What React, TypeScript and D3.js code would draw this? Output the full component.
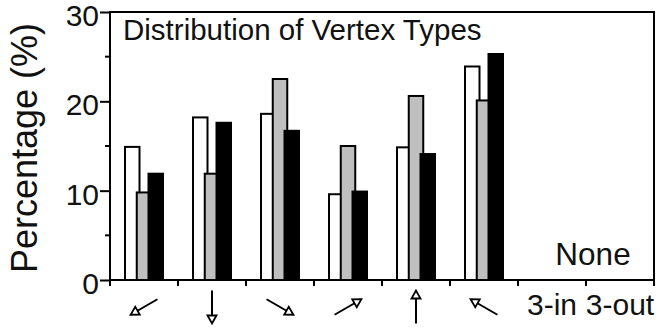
import React, { useRef, useEffect } from 'react'
import * as d3 from 'd3'

// vertex types: six arrow directions, then the two 3-way types
const vertexTypes = ['↙', '↓', '↘', '↗', '↑', '↖', '3-in', '3-out']
const seriesWhite = [14.9, 18.2, 18.6, 9.6, 14.85, 23.9, 0, 0]
const seriesGray = [9.8, 11.9, 22.5, 15.0, 20.6, 20.1, 0, 0]
const seriesBlack = [11.9, 17.6, 16.7, 9.9, 14.1, 25.3, 0, 0]
const seriesFills = ['#ffffff', '#bfbfbf', '#000000']
const yTicks = [0, 10, 20, 30]
const yMinorTicks = [5, 15, 25]

// arrow direction (degrees, clockwise from +x in screen space)
const arrowAngle: Record<string, number> = {
  '↙': 150,
  '↓': 90,
  '↘': 30,
  '↗': -30,
  '↑': -90,
  '↖': -150,
}

const FONT = '"Liberation Sans", Arial, Helvetica, sans-serif'

export default function App() {
  const svgRef = useRef<SVGSVGElement>(null)

  useEffect(() => {
    if (!svgRef.current) return
    const svg = d3.select(svgRef.current)
    svg.selectAll('*').remove()

    const W = 664
    const H = 333
    const margin = { top: 12, right: 10, bottom: 53, left: 110 }
    const width = W - margin.left - margin.right
    const height = H - margin.top - margin.bottom

    svg.attr('width', W).attr('height', H).style('font-family', FONT)

    const g = svg.append('g').attr('transform', `translate(${margin.left},${margin.top})`)

    const x = d3.scaleBand().domain(vertexTypes).range([0, width]).padding(0)
    const y = d3.scaleLinear().domain([0, 30]).range([height, 0])

    // bars: white, gray, black, drawn in that order with overlap
    const series = [seriesWhite, seriesGray, seriesBlack]
    const sub = d3.scaleLinear().domain([0, 2]).range([15, 38.5])
    const barW = 14.5

    series.forEach((vals, si) => {
      g.append('g')
        .selectAll('rect')
        .data(vertexTypes.map((t, i) => ({ t, v: vals[i] })).filter((d) => d.v > 0))
        .join('rect')
        .attr('x', (d) => (x(d.t) as number) + sub(si))
        .attr('y', (d) => y(d.v))
        .attr('width', barW)
        .attr('height', (d) => height - y(d.v))
        .attr('fill', seriesFills[si])
        .attr('stroke', '#000')
        .attr('stroke-width', 2)
    })

    // frame
    g.append('rect')
      .attr('x', 0)
      .attr('y', 0)
      .attr('width', width)
      .attr('height', height)
      .attr('fill', 'none')
      .attr('stroke', '#000')
      .attr('stroke-width', 2)

    // y axis ticks
    const yAxis = g
      .append('g')
      .call(d3.axisLeft(y).tickValues(yTicks).tickSize(10).tickPadding(1).tickFormat(d3.format('d')))
    yAxis.select('.domain').remove()
    yAxis.selectAll('line').attr('stroke', '#000').attr('stroke-width', 2)
    yAxis
      .selectAll('text')
      .attr('font-size', 30)
      .attr('font-family', FONT)
      .attr('fill', '#111')
      .attr('dy', '0.45em')

    g.append('g')
      .selectAll('line')
      .data(yMinorTicks)
      .join('line')
      .attr('x1', -5)
      .attr('x2', 0)
      .attr('y1', (d) => y(d))
      .attr('y2', (d) => y(d))
      .attr('stroke', '#000')
      .attr('stroke-width', 2)

    // x axis ticks at band boundaries
    const bounds = vertexTypes.map((t) => x(t) as number).concat([width])
    g.append('g')
      .selectAll('line')
      .data(bounds)
      .join('line')
      .attr('x1', (d) => d)
      .attr('x2', (d) => d)
      .attr('y1', height)
      .attr('y2', height + 6)
      .attr('stroke', '#000')
      .attr('stroke-width', 2)

    // x tick labels: arrows or text
    const labels = g.append('g').attr('transform', `translate(0,${height})`)
    vertexTypes.forEach((t) => {
      const cx = (x(t) as number) + x.bandwidth() / 2
      const ang = arrowAngle[t]
      if (ang !== undefined) {
        const L = Math.abs(ang) === 90 ? 33 : 31
        const head = 8
        const hw = 4.5
        const a = g
          .append('g')
          .attr('transform', `translate(${cx},${height + 27}) rotate(${ang})`)
        a.append('line')
          .attr('x1', -L / 2)
          .attr('x2', L / 2 - head)
          .attr('y1', 0)
          .attr('y2', 0)
          .attr('stroke', '#000')
          .attr('stroke-width', 2)
        a.append('path')
          .attr('d', `M${L / 2},0 L${L / 2 - head},${-hw} L${L / 2 - head},${hw} Z`)
          .attr('fill', '#fff')
          .attr('stroke', '#000')
          .attr('stroke-width', 1.8)
          .attr('stroke-linejoin', 'miter')
      } else {
        labels
          .append('text')
          .attr('x', cx)
          .attr('y', 35)
          .attr('text-anchor', 'middle')
          .attr('font-size', 30)
          .attr('fill', '#111')
          .text(t)
      }
    })

    // annotations
    g.append('text')
      .attr('x', 13)
      .attr('y', 28)
      .attr('font-size', 29.5)
      .attr('fill', '#111')
      .text('Distribution of Vertex Types')

    g.append('text')
      .attr('x', (x('3-out') as number) + 7)
      .attr('y', height - 15)
      .attr('text-anchor', 'middle')
      .attr('font-size', 31.5)
      .attr('fill', '#111')
      .text('None')

    svg
      .append('text')
      .attr('transform', `translate(37,${margin.top + height / 2 + 2}) rotate(-90)`)
      .attr('text-anchor', 'middle')
      .attr('font-size', 36)
      .attr('fill', '#111')
      .text('Percentage (%)')
  }, [])

  return (
    <div style={{ position: 'absolute', left: 0, top: 0, background: '#fff' }}>
      <svg ref={svgRef} />
    </div>
  )
}
